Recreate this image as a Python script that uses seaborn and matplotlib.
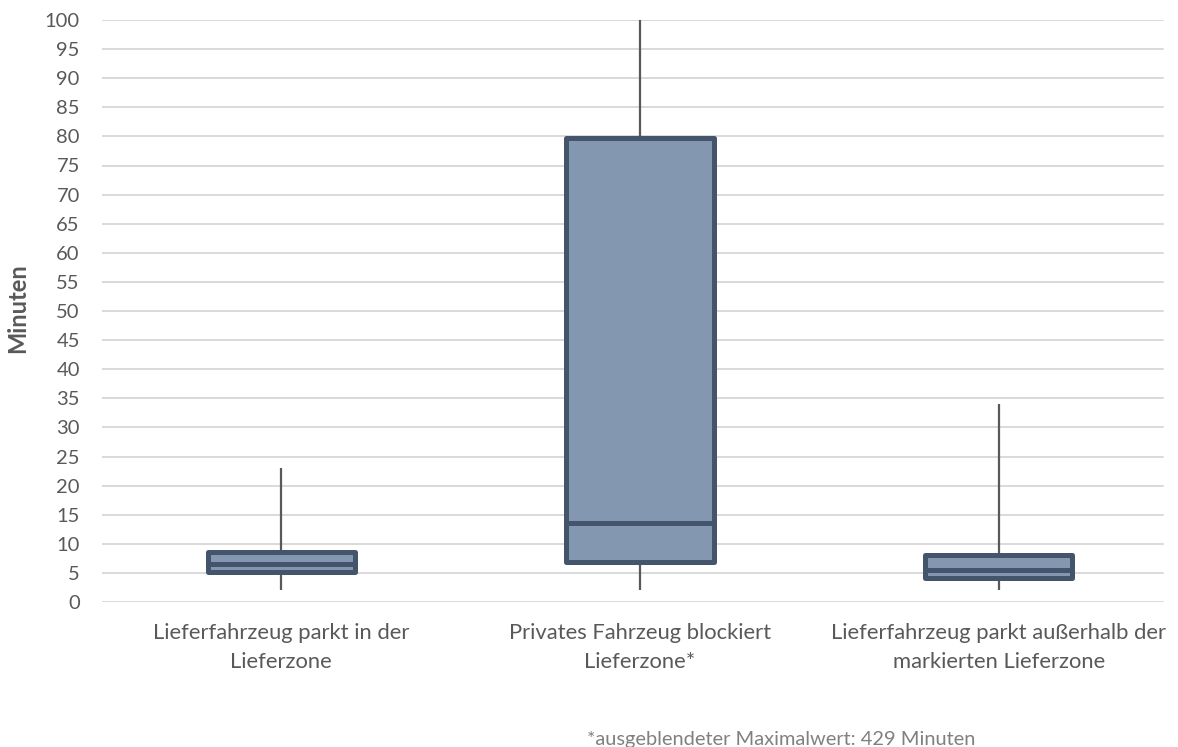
import matplotlib
matplotlib.use("Agg")
import matplotlib.pyplot as plt
import seaborn as sns
import pandas as pd

# Five-number summaries (minutes) per delivery situation
categories = [
    "Lieferfahrzeug parkt in der\nLieferzone",
    "Privates Fahrzeug blockiert\nLieferzone*",
    "Lieferfahrzeug parkt außerhalb der\nmarkierten Lieferzone",
]
minimum = [2, 2, 2]
q1 = [5.2, 6.9, 4.1]
median = [6.6, 13.5, 5.5]
q3 = [8.6, 79.8, 8.0]
maximum = [23, 429, 34]

y_ticks = list(range(0, 101, 5))
footnote = "*ausgeblendeter Maximalwert: 429 Minuten"

rows = []
for cat, a, b, c, d, e in zip(categories, minimum, q1, median, q3, maximum):
    for v in (a, b, c, d, e):
        rows.append({"Kategorie": cat, "Minuten": v})
df = pd.DataFrame(rows)

sns.set_theme(style="white")
plt.rcParams["font.family"] = ["Lato", "DejaVu Sans"]

FILL = "#8497B0"
EDGE = "#44546A"
TEXT = "#595959"
GRID = "#D9D9D9"

fig = plt.figure(figsize=(11.78, 7.47), dpi=100)
ax = fig.add_axes([102 / 1178, 145 / 747, 1076 / 1178, 582 / 747])

for t in y_ticks:
    ax.axhline(t, xmin=0, xmax=0.986, color=GRID, lw=1.4, zorder=0)

sns.boxplot(
    data=df, x="Kategorie", y="Minuten", order=categories,
    color=FILL, saturation=1, linecolor=EDGE, linewidth=3.6,
    width=0.41, whis=(0, 100), showcaps=False, showfliers=False,
    boxprops={"joinstyle": "round", "zorder": 3},
    medianprops={"color": EDGE, "linewidth": 3.6, "zorder": 4},
    whiskerprops={"color": TEXT, "linewidth": 1.6, "zorder": 2},
    ax=ax,
)

ax.set_xlim(-0.5, 2.5)
ax.set_ylim(0, 100)
ax.set_yticks(y_ticks)
ax.set_yticklabels([str(t) for t in y_ticks])
for s in ax.spines.values():
    s.set_visible(False)
ax.tick_params(axis="y", length=0, pad=16, labelsize=14.5, labelcolor=TEXT)
ax.tick_params(axis="x", length=0, pad=15, labelsize=15.8, labelcolor=TEXT)
for lbl in ax.get_xticklabels():
    lbl.set_linespacing(1.6)
ax.set_xlabel("")
ax.set_ylabel("")

fig.text(18 / 1178, 1 - 308 / 747, "Minuten", rotation=90, ha="center",
         va="center", fontsize=17, fontweight="bold", color=TEXT)
fig.text(587 / 1178, 1 - 740 / 747, footnote, ha="left", va="center",
         fontsize=14.4, color="#808080")

fig.savefig("out.png", dpi=100)
